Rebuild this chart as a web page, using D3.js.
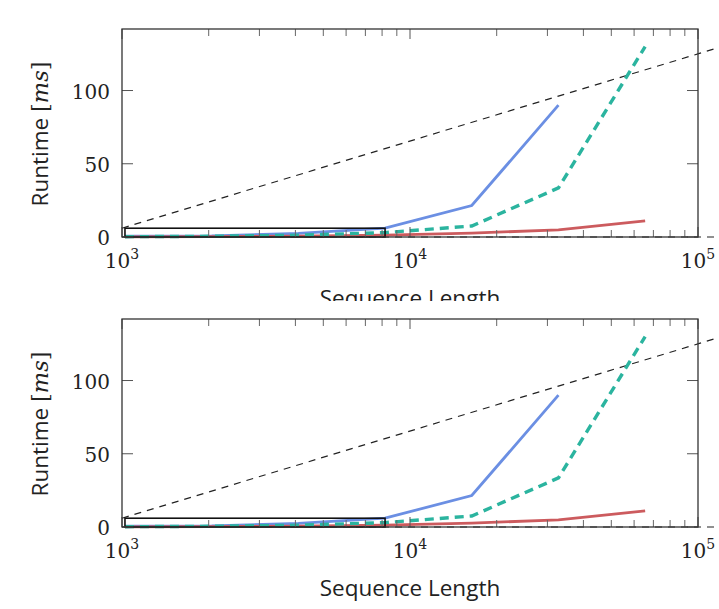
<!DOCTYPE html>
<html>
<head>
<meta charset="utf-8">
<script src="https://cdn.jsdelivr.net/npm/d3@7"></script>
<style>
  body { margin: 0; background: #fff; }
  svg { display: block; }
</style>
</head>
<body>
<div id="grafico"></div>
<script>
// ---------------- datos ----------------
const longitudes = [1024, 2048, 4096, 8192, 16384, 32768, 65536]
const serieAzul  = [0.5, 0.8, 2.5, 6, 21.5, 90]          // termina en 32768
const serieVerde = [0.2, 0.5, 1.2, 3, 7.5, 33.5, 130]
const serieRoja  = [0.1, 0.3, 0.6, 1.3, 2.7, 4.8, 11]
const refX = [1000, 125000]
const refY = [6, 130.8]
const ceroX = [1000, 125000]
const ceroY = [0, 0]
const cajaX = [1024, 8192]
const cajaY = [0, 6]
const ticksY = [0, 50, 100]
const decadas = [1000, 10000, 100000]
const exponentes = ["3", "4", "5"]

// ---------------- dibujo ----------------
const W = 719, H = 609
const svg = d3.select("#grafico").append("svg").attr("width", W).attr("height", H)

svg.append("clipPath").attr("id", "corte")
   .append("rect").attr("x", 0).attr("y", 0).attr("width", W).attr("height", 301)

const serif = "'DejaVu Serif', serif"
const sans = "'Open Sans', sans-serif"

function panel(g) {
    const x = d3.scaleLog().domain([1000, 100000]).range([122, 698])
    const y = d3.scaleLinear().domain([0, 142]).range([237, 29])

    const linea = d3.line().x(d => x(d[0])).y(d => y(d[1]))

    // lineas de referencia (sin recorte)
    g.append("path")
     .attr("d", linea(refX.map((v, i) => [v, refY[i]])))
     .attr("fill", "none").attr("stroke", "#222").attr("stroke-width", 1.2)
     .attr("stroke-dasharray", "7,6")
    g.append("path")
     .attr("d", linea(ceroX.map((v, i) => [v, ceroY[i]])))
     .attr("fill", "none").attr("stroke", "#222").attr("stroke-width", 1.2)
     .attr("stroke-dasharray", "7,6")

    // series
    g.append("path")
     .attr("d", linea(serieAzul.map((v, i) => [longitudes[i], v])))
     .attr("fill", "none").attr("stroke", "#6b8fe3").attr("stroke-width", 2.8)
    g.append("path")
     .attr("d", linea(serieRoja.map((v, i) => [longitudes[i], v])))
     .attr("fill", "none").attr("stroke", "#cc5b5e").attr("stroke-width", 2.8)
    g.append("path")
     .attr("d", linea(serieVerde.map((v, i) => [longitudes[i], v])))
     .attr("fill", "none").attr("stroke", "#2bb49f").attr("stroke-width", 3.4)
     .attr("stroke-dasharray", "9,6")

    // caja de zoom
    g.append("rect")
     .attr("x", x(cajaX[0])).attr("y", y(cajaY[1]))
     .attr("width", x(cajaX[1]) - x(cajaX[0]))
     .attr("height", y(cajaY[0]) - y(cajaY[1]))
     .attr("fill", "none").attr("stroke", "#111").attr("stroke-width", 1.6)

    // ticks x (arriba y abajo, hacia dentro)
    const menores = []
    for (let d = 1000; d < 100000; d *= 10)
        for (let k = 2; k <= 9; k++) menores.push(d * k)
    const [y0, y1] = y.range()
    menores.forEach(t => {
        g.append("line").attr("x1", x(t)).attr("x2", x(t)).attr("y1", y1).attr("y2", y1 + 7)
         .attr("stroke", "#666").attr("stroke-width", 1)
        g.append("line").attr("x1", x(t)).attr("x2", x(t)).attr("y1", y0).attr("y2", y0 - 7)
         .attr("stroke", "#666").attr("stroke-width", 1)
    })
    decadas.forEach(t => {
        g.append("line").attr("x1", x(t)).attr("x2", x(t)).attr("y1", y1).attr("y2", y1 + 10)
         .attr("stroke", "#555").attr("stroke-width", 1)
        g.append("line").attr("x1", x(t)).attr("x2", x(t)).attr("y1", y0).attr("y2", y0 - 10)
         .attr("stroke", "#555").attr("stroke-width", 1)
    })

    // ticks y
    ticksY.forEach(t => {
        g.append("line").attr("x1", 122).attr("x2", 133).attr("y1", y(t)).attr("y2", y(t))
         .attr("stroke", "#555").attr("stroke-width", 1)
        g.append("line").attr("x1", 698).attr("x2", 687).attr("y1", y(t)).attr("y2", y(t))
         .attr("stroke", "#555").attr("stroke-width", 1)
        g.append("text").attr("x", 110).attr("y", y(t) + 8)
         .attr("text-anchor", "end").attr("font-family", serif).attr("font-size", 20)
         .attr("fill", "#222").text(t)
    })

    // marco
    g.append("rect").attr("x", 122).attr("y", 29).attr("width", 576).attr("height", 208)
     .attr("fill", "none").attr("stroke", "#333").attr("stroke-width", 1.3)

    // etiquetas x: 10^n
    decadas.forEach((t, i) => {
        const tx = g.append("text").attr("x", x(t)).attr("y", 268)
         .attr("text-anchor", "middle").attr("font-family", serif).attr("font-size", 20)
         .attr("fill", "#222")
        tx.append("tspan").text("10")
        tx.append("tspan").attr("dy", -9).attr("font-size", 14).text(exponentes[i])
    })

    // titulos
    g.append("text").attr("x", 410).attr("y", 306)
     .attr("text-anchor", "middle").attr("font-family", sans).attr("font-size", 22.5)
     .attr("fill", "#222").text("Sequence Length")

    const ty = g.append("text").attr("transform", "translate(48,134) rotate(-90)")
     .attr("text-anchor", "middle").attr("font-family", sans).attr("font-size", 22.5)
     .attr("fill", "#222")
    ty.append("tspan").text("Runtime ")
    ty.append("tspan").attr("font-family", serif).text("[")
    ty.append("tspan").attr("font-family", serif).attr("font-style", "italic").text("ms")
    ty.append("tspan").attr("font-family", serif).text("]")
}

panel(svg.append("g").attr("clip-path", "url(#corte)"))
panel(svg.append("g").attr("transform", "translate(0,290)"))
</script>
</body>
</html>
